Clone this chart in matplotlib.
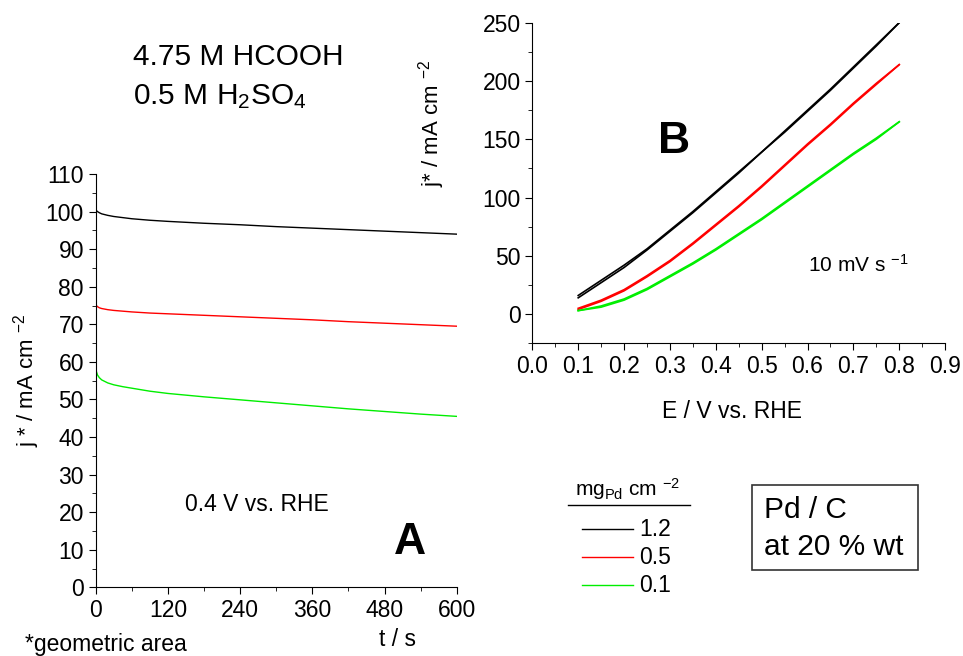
import numpy as np
import matplotlib.pyplot as plt
from matplotlib.ticker import MultipleLocator

plt.rcParams['font.family'] = ['Liberation Sans', 'DejaVu Sans']
plt.rcParams['mathtext.fontset'] = 'custom'
plt.rcParams['mathtext.rm'] = 'Liberation Sans'
plt.rcParams['mathtext.it'] = 'Liberation Sans'

# panel A: chronoamperometry at 0.4 V
t_s = [0, 1, 3, 6, 10, 20, 30, 45, 60, 90, 120, 180, 240, 300, 360, 420, 480, 540, 600]
j_12 = [100.6, 100.3, 100.0, 99.7, 99.4, 99.0, 98.7, 98.4, 98.1, 97.7, 97.4, 96.9, 96.5, 96.0, 95.6, 95.2, 94.8, 94.4, 94.0]
j_05 = [75.3, 75.0, 74.7, 74.4, 74.2, 73.9, 73.7, 73.5, 73.3, 73.0, 72.8, 72.4, 72.0, 71.6, 71.2, 70.7, 70.3, 69.9, 69.5]
j_01 = [59.0, 57.5, 56.5, 55.8, 55.2, 54.4, 53.9, 53.4, 53.0, 52.2, 51.6, 50.7, 49.9, 49.1, 48.3, 47.5, 46.8, 46.1, 45.5]

# panel B: voltammetry, forward and backward sweeps
E_V = [0.10, 0.15, 0.20, 0.25, 0.30, 0.35, 0.40, 0.45, 0.50, 0.55, 0.60, 0.65, 0.70, 0.75, 0.80]
jb_12_fwd = [14, 27, 40, 55, 71, 87, 104, 121, 139, 156, 174, 192, 211, 230, 250]
jb_12_bwd = [16, 29, 42, 56, 72, 88, 105, 122, 139, 157, 175, 193, 212, 231, 250]
jb_05_fwd = [4, 11, 20, 32, 45, 60, 76, 92, 109, 127, 145, 162, 180, 197, 214]
jb_05_bwd = [5, 12, 21, 33, 46, 61, 77, 93, 110, 128, 146, 163, 181, 198, 214]
jb_01_fwd = [3, 7, 13, 22, 33, 44, 56, 69, 82, 96, 110, 124, 138, 151, 165]
jb_01_bwd = [3, 6, 12, 21, 32, 43, 55, 68, 81, 95, 109, 123, 137, 150, 165]

loadings = ['1.2', '0.5', '0.1']
colors = ['black', 'red', '#00ee00']

fig = plt.figure(figsize=(9.63, 6.56), dpi=100)

def style_axes(ax):
    ax.spines['top'].set_visible(False)
    ax.spines['right'].set_visible(False)
    ax.tick_params(which='both', direction='out', labelsize=16.5, color='black')
    ax.tick_params(which='major', length=5)
    ax.tick_params(which='minor', length=3)

# ----- A -----
axA = fig.add_axes([0.0994, 0.1047, 0.3749, 0.630])
for j, c in zip([j_12, j_05, j_01], colors):
    axA.plot(t_s, j, color=c, lw=1)
axA.set_xlim(0, 600)
axA.set_ylim(0, 110)
axA.xaxis.set_major_locator(MultipleLocator(120))
axA.xaxis.set_minor_locator(MultipleLocator(60))
axA.yaxis.set_major_locator(MultipleLocator(10))
axA.yaxis.set_minor_locator(MultipleLocator(5))
style_axes(axA)
axA.text(268, 22, '0.4 V vs. RHE', fontsize=16.5, ha='center', va='center')
axA.text(522, 12, 'A', fontsize=32, fontweight='bold', ha='center', va='center')

# ----- B -----
axB = fig.add_axes([0.5528, 0.4767, 0.4286, 0.4887])
for fw, bw, c in zip([jb_12_fwd, jb_05_fwd, jb_01_fwd], [jb_12_bwd, jb_05_bwd, jb_01_bwd], colors):
    axB.plot(E_V, fw, color=c, lw=1.2)
    axB.plot(E_V, bw, color=c, lw=1.2)
axB.set_xlim(0, 0.9)
axB.set_ylim(-25, 250)
axB.xaxis.set_major_locator(MultipleLocator(0.1))
axB.xaxis.set_minor_locator(MultipleLocator(0.05))
axB.yaxis.set_major_locator(MultipleLocator(50))
axB.yaxis.set_minor_locator(MultipleLocator(25))
style_axes(axB)
axB.set_xticklabels([f'{v:.1f}' for v in axB.get_xticks()])
axB.text(0.31, 148, 'B', fontsize=32, fontweight='bold', ha='center', va='center')
axB.text(0.6, 42, '10 mV s $^{-1}$', fontsize=15, ha='left', va='center')

# figure texts
fig.text(133 / 963, 1 - 57 / 656, '4.75 M HCOOH', fontsize=21.5, va='center')
fig.text(133 / 963, 1 - 97 / 656, '0.5 M H$_2$SO$_4$', fontsize=21.5, va='center')
fig.text(27 / 963, 1 - 380 / 656, 'j * / mA cm $^{-2}$', fontsize=16, rotation=90, ha='center', va='center')
fig.text(432 / 963, 1 - 123 / 656, 'j* / mA cm $^{-2}$', fontsize=16, rotation=90, ha='center', va='center')
fig.text(732 / 963, 1 - 412 / 656, 'E / V vs. RHE', fontsize=16.5, ha='center', va='center')
fig.text(397 / 963, 1 - 640 / 656, 't / s', fontsize=16.5, ha='center', va='center')
fig.text(25 / 963, 1 - 645 / 656, '*geometric area', fontsize=16.5, ha='left', va='center')

# legend drawn by hand in figure coordinates
fig.text(628 / 963, 1 - 489 / 656, 'mg$_{\\mathrm{Pd}}$ cm $^{-2}$', fontsize=15, ha='center', va='center')
fig.add_artist(plt.Line2D([568 / 963, 690 / 963], [1 - 505 / 656] * 2, color='black', lw=1))
for i, (lab, c) in enumerate(zip(loadings, colors)):
    yy = 1 - (529 + 28 * i) / 656
    fig.add_artist(plt.Line2D([582 / 963, 633 / 963], [yy, yy], color=c, lw=1))
    fig.text(639 / 963, yy, lab, fontsize=16.5, ha='left', va='center')

fig.add_artist(plt.Rectangle((752 / 963, 1 - 570 / 656), 166 / 963, 85 / 656,
                             fill=False, edgecolor='#333333', lw=1.2))
fig.text(764 / 963, 1 - 510 / 656, 'Pd / C', fontsize=21.5, ha='left', va='center')
fig.text(764 / 963, 1 - 547 / 656, 'at 20 % wt', fontsize=21.5, ha='left', va='center')

fig.savefig('out.png', dpi=100)
